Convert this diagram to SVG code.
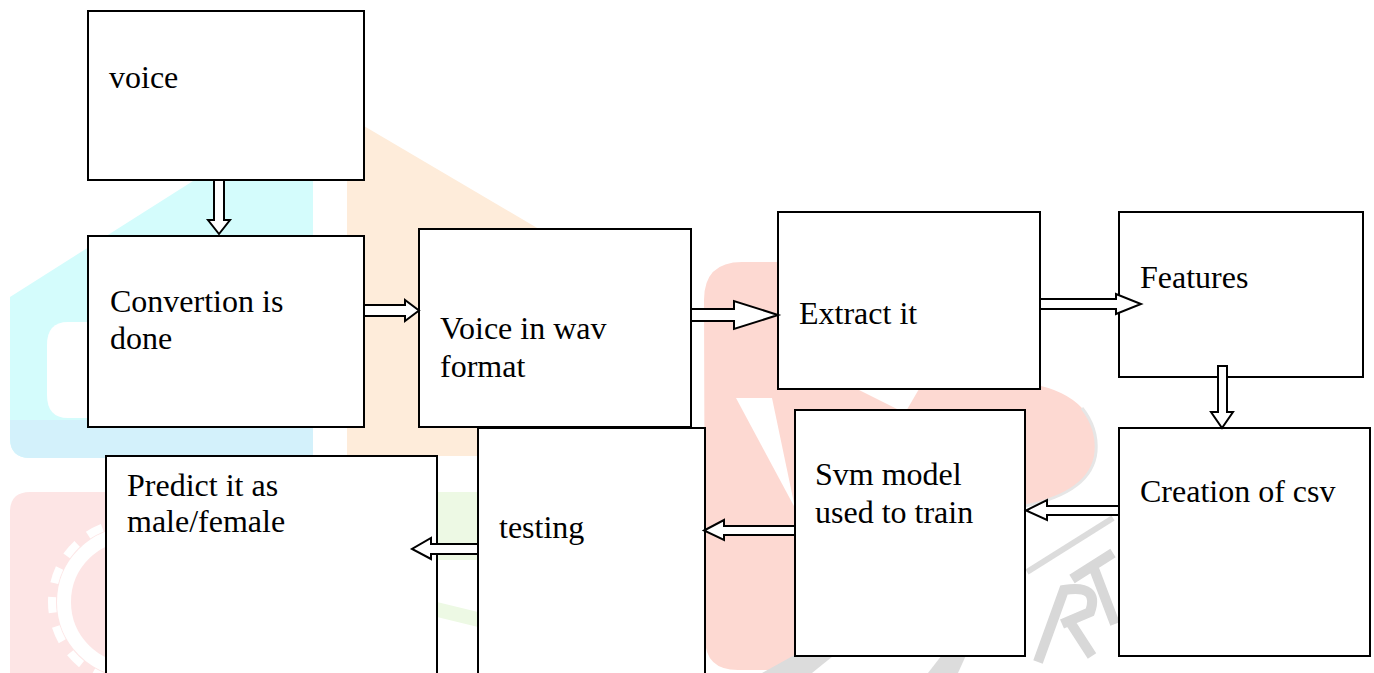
<svg xmlns="http://www.w3.org/2000/svg" width="1374" height="673" viewBox="0 0 1374 673">
<style>
.box{fill:#ffffff;stroke:#000000;stroke-width:2}
.arr{fill:#ffffff;stroke:#000000;stroke-width:2;stroke-linejoin:miter}
.lbl{font-family:"Liberation Serif","Times New Roman",serif;font-size:32px;fill:#000000}
.wm{fill:none;stroke:#d8d8d8;stroke-width:10;stroke-linecap:butt}
</style>
<rect x="0" y="0" width="1374" height="673" fill="#ffffff"/>
<g id="watermark">
  <path d="M193,181 L313,181 L313,458 L30,458 Q10,458 10,438 L10,297 Z" fill="#d4fcfc"/>
  <path d="M10,420 L313,420 L313,458 L30,458 Q10,458 10,438 Z" fill="#d3f1fb"/>
  <path d="M88,322 L68,322 Q47,322 47,345 L47,395 Q47,418 68,418 L88,418 Z" fill="#ffffff"/>
  <path d="M347,116 L600,265 L600,456 L347,456 Z" fill="#feecda"/>
  <path d="M437,428 L478,428 L478,456 L437,456 Z" fill="#feecda"/>
  <path d="M10,512 Q10,492 30,492 L106,492 L106,673 L10,673 Z" fill="#fde5e5"/>
  <circle cx="132" cy="602" r="68" fill="none" stroke="#ffffff" stroke-width="14"/>
  <circle cx="132" cy="602" r="80" fill="none" stroke="#ffffff" stroke-width="8" stroke-dasharray="16 14"/>
  <rect x="437" y="492" width="41" height="68" fill="#edf9e4"/>
  <path d="M437,602 L478,612 L478,627 L437,617 Z" fill="#edf9e4"/>
  <path d="M704,300 Q704,262 742,262 L1000,262 L1032,384 Q1065,390 1082,408 Q1098,428 1096,452 Q1092,492 1025,506 L795,640 L795,670 L738,670 Q705,670 705,638 Z" fill="#fdd9d2"/>
  <path d="M1082,408 Q1098,428 1096,452 Q1092,492 1025,506" fill="none" stroke="#e6e6e6" stroke-width="3"/>
  <path d="M736,398 L772,398 L795,508 Z" fill="#ffffff"/>
  <path d="M857,389 L919,389 L905,413 Z" fill="#ffffff"/>
  <path d="M1027,572 L1113,518" fill="none" stroke="#dcdcdc" stroke-width="6"/>
  <path class="wm" d="M1038,662 L1064,590 Q1100,584 1090,612 L1062,624 M1070,622 L1092,656"/>
  <path class="wm" d="M1072,579 L1113,553 M1093,566 L1115,624"/>
  <path d="M762,673 L800,652 L838,652 L812,673 Z" fill="#dcdcdc"/>
  <path d="M928,673 L952,642 L972,642 L958,673 Z" fill="#dcdcdc"/>
</g>
<g id="node-voice">
  <rect class="box" x="88" y="11" width="276" height="169"/>
  <text class="lbl" x="109" y="88">voice</text>
</g>
<g id="node-convertion">
  <rect class="box" x="88" y="236" width="276" height="191"/>
  <text class="lbl" x="110" y="312">Convertion is</text>
  <text class="lbl" x="110" y="349">done</text>
</g>
<g id="node-wav">
  <rect class="box" x="419" y="229" width="272" height="198"/>
  <text class="lbl" x="440" y="339">Voice in wav</text>
  <text class="lbl" x="440" y="377">format</text>
</g>
<g id="node-extract">
  <rect class="box" x="778" y="212" width="262" height="177"/>
  <text class="lbl" x="799" y="324">Extract it</text>
</g>
<g id="node-features">
  <rect class="box" x="1119" y="212" width="244" height="165"/>
  <text class="lbl" x="1140" y="288">Features</text>
</g>
<g id="node-csv">
  <rect class="box" x="1119" y="428" width="251" height="228"/>
  <text class="lbl" x="1140" y="502">Creation of csv</text>
</g>
<g id="node-svm">
  <rect class="box" x="795" y="410" width="230" height="246"/>
  <text class="lbl" x="815" y="485">Svm model</text>
  <text class="lbl" x="815" y="523">used to train</text>
</g>
<g id="node-testing">
  <rect class="box" x="478" y="428" width="227" height="260"/>
  <text class="lbl" x="499" y="538">testing</text>
</g>
<g id="node-predict">
  <rect class="box" x="106" y="456" width="331" height="232"/>
  <text class="lbl" x="127" y="496">Predict it as</text>
  <text class="lbl" x="127" y="532">male/female</text>
</g>
<g id="connectors">
  <polygon class="arr" points="214,180 224,180 224,220 230,220 219,234 208,220 214,220"/>
  <polygon class="arr" points="364,305 405,305 405,300 419,310.5 405,321 405,316 364,316"/>
  <polygon class="arr" points="691,309 734,309 734,301 778,315 734,329 734,321 691,321"/>
  <polygon class="arr" points="1040,299 1116,299 1116,294 1141,304 1116,314 1116,309 1040,309"/>
  <polygon class="arr" points="1218,366 1227,366 1227,412 1233,412 1222,428 1211,412 1218,412"/>
  <polygon class="arr" points="1119,506 1047,506 1047,500 1026,510.5 1047,520 1047,515 1119,515"/>
  <polygon class="arr" points="795,526 724,526 724,520 704,530.5 724,540 724,535 795,535"/>
  <polygon class="arr" points="478,544 431,544 431,538 412,549 431,559 431,554 478,554"/>
</g>
</svg>
